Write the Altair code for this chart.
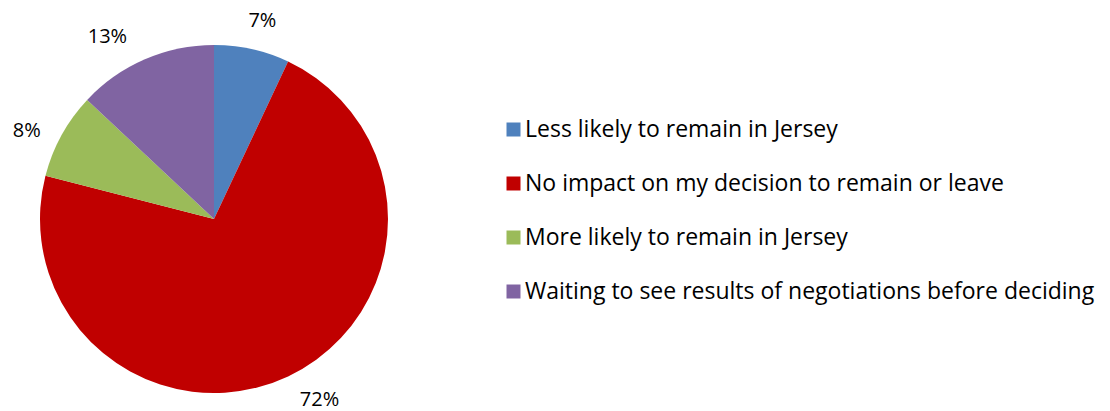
import altair as alt
import pandas as pd

categories = [
    "Less likely to remain in Jersey",
    "No impact on my decision to remain or leave",
    "More likely to remain in Jersey",
    "Waiting to see results of negotiations before deciding",
]
values = [7, 72, 8, 13]
labels = ["7%", "72%", "8%", "13%"]
colors = ["#4F81BD", "#C00000", "#9BBB59", "#8064A2"]

df = pd.DataFrame({
    "category": categories,
    "value": values,
    "label": labels,
    "order": list(range(len(categories))),
})

FONT = "Open Sans"
TAU = 6.283185307179586

arcs = alt.Chart(df).mark_arc(radius=174).encode(
    theta=alt.Theta("value:Q", stack=True),
    order=alt.Order("order:Q"),
    x=alt.value(206),
    y=alt.value(203),
    color=alt.Color(
        "category:N",
        sort=categories,
        scale=alt.Scale(domain=categories, range=colors),
        legend=alt.Legend(
            title=None,
            orient="none",
            legendX=494,
            legendY=102,
            symbolType="square",
            symbolSize=196,
            symbolStrokeWidth=0,
            labelFontSize=23,
            labelFont=FONT,
            labelColor="#000000",
            labelLimit=800,
            rowPadding=30,
            padding=0,
            labelOffset=0,
        ),
    ),
)

# Excel-style "outside end" label placement: small nudges from the radial position.
# The mid-angle of each slice is computed on the full data, then each label is filtered.
nudges = {"7%": (3, 5), "72%": (17, -7), "8%": (-5, 12), "13%": (-24, 9)}
text_layers = []
for lab, (ddx, ddy) in nudges.items():
    text_layers.append(
        alt.Chart(df).transform_joinaggregate(total="sum(value)").transform_window(
            cum="sum(value)", sort=[alt.SortField("order")]
        ).transform_calculate(
            mid="(datum.cum - datum.value / 2) / datum.total * 2 * PI"
        ).transform_filter(
            alt.datum.label == lab
        ).mark_text(
            radius=208, fontSize=20, font=FONT, color="#000000", dx=ddx, dy=ddy
        ).encode(
            theta=alt.Theta("mid:Q", scale=alt.Scale(domain=[0, TAU], range=[0, TAU])),
            x=alt.value(206),
            y=alt.value(203),
            text="label:N",
        )
    )

chart = alt.layer(arcs, *text_layers).resolve_scale(theta="independent").properties(
    width=1094,
    height=395,
    autosize=alt.AutoSizeParams(type="none"),
    padding={"top": 8, "left": 0, "right": 0, "bottom": 0},
).configure_view(stroke=None)

chart.save("out.html", embed_options={"renderer": "svg", "actions": False})
